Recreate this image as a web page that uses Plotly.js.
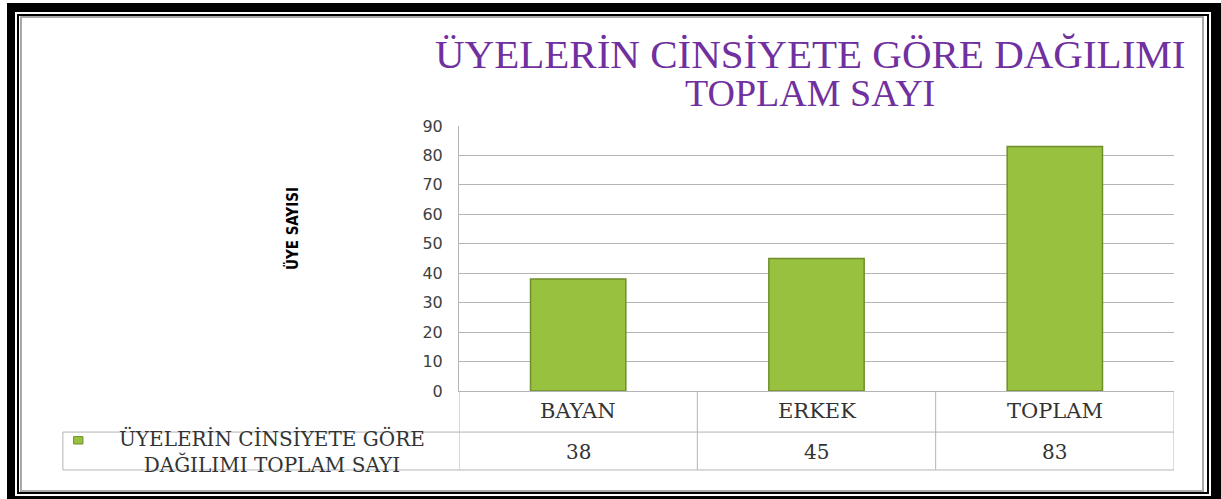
<!DOCTYPE html>
<html>
<head>
<meta charset="utf-8">
<script src="https://cdn.plot.ly/plotly-3.0.1.min.js"></script>
<style>
  body { margin: 0; background: #fff; }
  #wrap { position: relative; width: 1221px; height: 499px; overflow: hidden; }
  #chart { position: absolute; left: 0; top: 0; width: 1221px; height: 499px; }
  .frame { position: absolute; pointer-events: none; box-sizing: border-box; }
</style>
</head>
<body>
<div id="wrap">
  <div id="chart"></div>
  <div class="frame" style="left:7px;top:3px;right:0;bottom:0;border-style:solid;border-color:#000;border-width:9px 10px 3px 8px;"></div>
  <div class="frame" style="left:17px;top:14px;right:12px;bottom:5px;border:2px solid #000;"></div>
  <div class="frame" style="left:20px;top:16px;right:17px;bottom:7px;border:2px solid #a8a8a8;"></div>
</div>
<script>
// données du graphique
const categories = ['BAYAN', 'ERKEK', 'TOPLAM'];
const values = [38, 45, 83];
const seriesName = 'ÜYELERİN CİNSİYETE GÖRE<br>DAĞILIMI TOPLAM SAYI';
const titleLines = ['ÜYELERİN CİNSİYETE GÖRE DAĞILIMI', 'TOPLAM SAYI'];
const yTicks = [0, 10, 20, 30, 40, 50, 60, 70, 80, 90];

const GRID = '#b4b4b4';
const SERIF = '"Liberation Serif", "DejaVu Serif", serif';
const TABLE_FONT = '"DejaVu Serif", serif';

// --- barres ---
const bars = {
    x: categories,
    y: values,
    type: 'bar',
    width: 0.4,
    marker: { color: '#97c13f', line: { color: '#6f8f2b', width: 1.5 } },
    hoverinfo: 'x+y'
};

// --- tableau de données sous l'axe ---
const yRow1 = -0.155, yRow2 = -0.298, xLeft = -0.554;
const shapes = [
    { type: 'line', xref: 'paper', yref: 'paper', x0: xLeft, x1: 1, y0: yRow1, y1: yRow1, line: { color: GRID, width: 1 } },
    { type: 'line', xref: 'paper', yref: 'paper', x0: xLeft, x1: 1, y0: yRow2, y1: yRow2, line: { color: GRID, width: 1 } },
    { type: 'line', xref: 'paper', yref: 'paper', x0: xLeft, x1: xLeft, y0: yRow1, y1: yRow2, line: { color: GRID, width: 1 } }
];
for (let i = 0; i <= categories.length; i++) {
    shapes.push({ type: 'line', xref: 'x', yref: 'paper', x0: i - 0.5, x1: i - 0.5, y0: 0, y1: yRow2, line: { color: GRID, width: 1 } });
}
// petit carré de légende
shapes.push({ type: 'rect', xref: 'paper', yref: 'paper', x0: -0.539, x1: -0.526, y0: -0.172, y1: -0.200,
    fillcolor: '#97c13f', line: { color: '#6f8f2b', width: 1 } });

const annotations = [];
const cell = (x, y, xref, text, size) => ({
    x: x, y: y, xref: xref, yref: 'paper', text: text, showarrow: false,
    xanchor: 'center', yanchor: 'middle', align: 'center',
    font: { family: TABLE_FONT, size: size, color: '#333' }
});
categories.forEach((c, i) => {
    annotations.push(cell(c, -0.077, 'x', c, 21));
    annotations.push(cell(c, -0.229, 'x', String(values[i]), 20));
});
annotations.push(cell(-0.261, -0.229, 'paper', seriesName, 20));

// titre sur deux lignes
annotations.push({ x: 0.491, y: 1.272, xref: 'paper', yref: 'paper', text: titleLines[0], showarrow: false,
    xanchor: 'center', yanchor: 'middle', font: { family: SERIF, size: 41, color: '#7030a0' } });
annotations.push({ x: 0.491, y: 1.125, xref: 'paper', yref: 'paper', text: titleLines[1], showarrow: false,
    xanchor: 'center', yanchor: 'middle', font: { family: SERIF, size: 38, color: '#7030a0' } });

// titre de l'axe Y
annotations.push({ x: -0.2336, y: 0.615, xref: 'paper', yref: 'paper', text: '<b>ÜYE SAYISI</b>', textangle: -90,
    xanchor: 'center', yanchor: 'middle', showarrow: false,
    font: { family: '"DejaVu Sans Condensed", "Open Sans", sans-serif', size: 15, color: '#000' } });

Plotly.newPlot('chart', [bars], {
    width: 1221,
    height: 499,
    margin: { l: 459, r: 47, t: 126, b: 108 },
    paper_bgcolor: '#fff',
    plot_bgcolor: '#fff',
    showlegend: false,
    xaxis: {
        range: [-0.5, 2.5],
        showticklabels: false,
        showgrid: false,
        zeroline: false,
        showline: true,
        linecolor: GRID,
        linewidth: 1,
        fixedrange: true
    },
    yaxis: {
        range: [0, 90],
        tickvals: yTicks,
        gridcolor: GRID,
        gridwidth: 1,
        zeroline: false,
        showline: true,
        linecolor: GRID,
        ticklabelstandoff: 12,
        tickfont: { family: '"DejaVu Sans", sans-serif', size: 16, color: '#404040' },
        fixedrange: true
    },
    shapes: shapes,
    annotations: annotations
}, { displayModeBar: false, staticPlot: true });
</script>
</body>
</html>
